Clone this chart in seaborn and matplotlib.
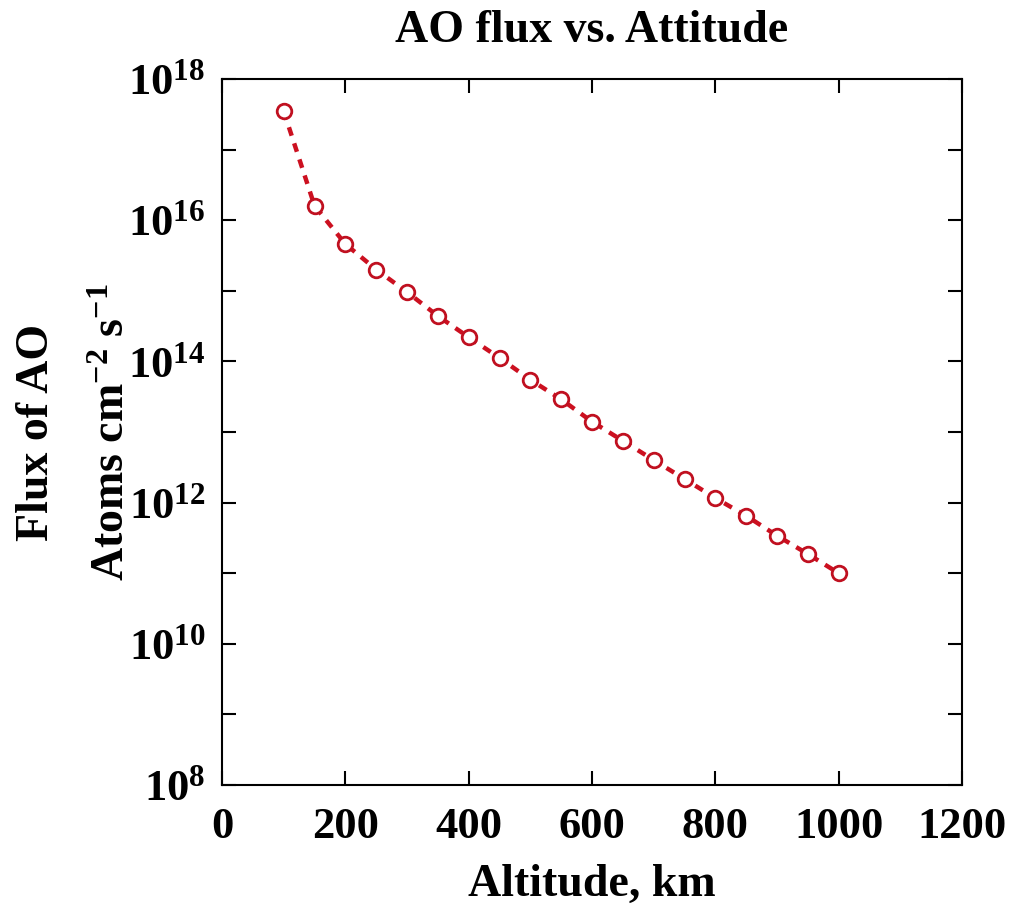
import numpy as np
import pandas as pd
import matplotlib
matplotlib.use("Agg")
import matplotlib.pyplot as plt
import matplotlib.ticker as mticker
import seaborn as sns

# ---- data ----
altitude_km = [100, 150, 200, 250, 300, 350, 400, 450, 500, 550,
               600, 650, 700, 750, 800, 850, 900, 950, 1000]
ao_flux = [3.5e17, 1.6e16, 4.6e15, 2.0e15, 9.6e14, 4.4e14, 2.2e14, 1.12e14,
           5.5e13, 2.9e13, 1.4e13, 7.5e12, 4.0e12, 2.16e12, 1.16e12, 6.5e11,
           3.4e11, 1.87e11, 1.0e11]
x_ticks = [0, 200, 400, 600, 800, 1000, 1200]
y_decades = list(range(8, 19))

title = "AO flux vs. Attitude"
xlabel = "Altitude, km"
ylabel = "Flux of AO\nAtoms cm$^{-2}$ s$^{-1}$"

df = pd.DataFrame({"alt": altitude_km, "flux": ao_flux})

sns.set_theme(style="white")
plt.rcParams["font.family"] = ["Liberation Serif", "DejaVu Serif"]
plt.rcParams["font.weight"] = "bold"
plt.rcParams["text.color"] = "black"
plt.rcParams["axes.labelcolor"] = "black"
plt.rcParams["mathtext.fontset"] = "custom"
plt.rcParams["mathtext.rm"] = "Liberation Serif:bold"
plt.rcParams["mathtext.it"] = "Liberation Serif:bold"
plt.rcParams["mathtext.bf"] = "Liberation Serif:bold"
plt.rcParams["mathtext.default"] = "rm"

fig = plt.figure(figsize=(10.12, 9.05), dpi=100)
ax = fig.add_axes([0.2194, 0.1326, 0.7312, 0.7801])

red = "#cc1020"
sns.lineplot(data=df, x="alt", y="flux", ax=ax, color=red, linewidth=3.2,
             linestyle=(0, (2.0, 1.8)), marker="o", markersize=10.5,
             markerfacecolor="white", markeredgecolor="#c01020",
             markeredgewidth=2.0)

ax.set_yscale("log")
ax.set_xlim(0, 1200)
ax.set_ylim(1e8, 1e18)
ax.set_xticks(x_ticks)
ax.set_yticks([10.0 ** d for d in y_decades])
ax.yaxis.set_minor_locator(mticker.NullLocator())


def yfmt(v, pos):
    e = int(round(np.log10(v)))
    return r"$10^{%d}$" % e if e % 2 == 0 else ""


ax.yaxis.set_major_formatter(mticker.FuncFormatter(yfmt))

ax.tick_params(axis="both", which="major", direction="in", top=True,
               right=True, left=True, bottom=True, length=10, width=1.5,
               labelsize=32, colors="black")
ax.tick_params(axis="x", pad=16)
ax.tick_params(axis="y", pad=12)
for lab in ax.get_xticklabels() + ax.get_yticklabels():
    lab.set_fontweight("bold")

for s in ax.spines.values():
    s.set_linewidth(1.5)
    s.set_color("black")

ax.set_title(title, fontsize=33, fontweight="bold", pad=27)
ax.set_xlabel(xlabel, fontsize=33, fontweight="bold", labelpad=12)
ax.set_ylabel(ylabel, fontsize=33, fontweight="bold", labelpad=-4,
              linespacing=2.05)

fig.savefig("out.png", dpi=100, facecolor="white")
